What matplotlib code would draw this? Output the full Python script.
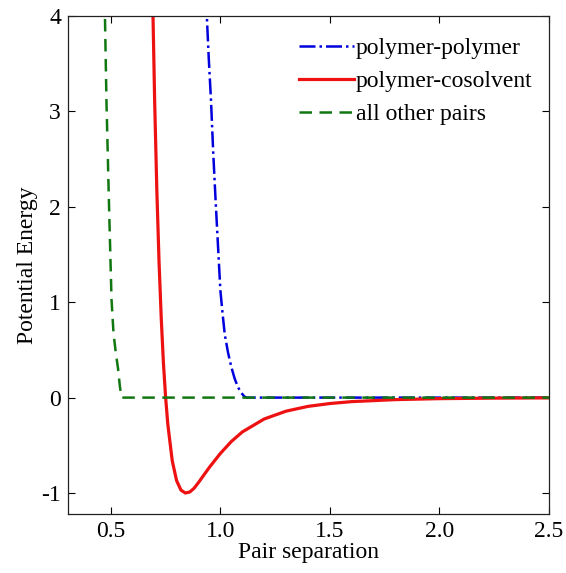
import matplotlib.pyplot as plt
import matplotlib as mpl

mpl.rcParams['font.family'] = 'Liberation Serif'
mpl.rcParams['axes.unicode_minus'] = False

# polymer-polymer (blue, dash-dot)
pp_x = [0.935, 0.938, 0.947, 0.957, 0.967, 0.978, 0.990, 1.000, 1.010, 1.020, 1.035, 1.050, 1.065, 1.080, 1.095, 1.110, 1.122, 2.5]
pp_y = [4.2, 4.0, 3.55, 3.12, 2.58, 2.07, 1.55, 1.12, 0.88, 0.66, 0.47, 0.32, 0.20, 0.11, 0.05, 0.01, 0.0, 0.0]

# polymer-cosolvent (red, solid)
pc_x = [0.69, 0.70, 0.71, 0.72, 0.73, 0.74, 0.75, 0.76, 0.78, 0.80, 0.82, 0.84, 0.86,
        0.88, 0.90, 0.95, 1.00, 1.05, 1.10, 1.20, 1.30, 1.40, 1.50, 1.60, 1.80, 2.00, 2.25, 2.50]
pc_y = [4.28, 3.10, 2.16, 1.42, 0.83, 0.36, 0.0, -0.28, -0.66, -0.87, -0.97, -1.0, -0.99,
        -0.95, -0.89, -0.73, -0.585, -0.46, -0.36, -0.224, -0.142, -0.092, -0.062, -0.042, -0.021, -0.011, -0.0055, -0.003]

# all other pairs (green, dashed)
op_x = [0.468, 0.473, 0.480, 0.491, 0.503, 0.512, 0.522, 0.533, 0.541, 0.549, 2.5]
op_y = [4.3, 4.0, 3.1, 2.07, 1.03, 0.68, 0.48, 0.30, 0.12, 0.0, 0.0]

fig = plt.figure(figsize=(5.66, 5.73), dpi=100)
ax = fig.add_axes([0.120, 0.103, 0.850, 0.869])

ax.plot(pp_x, pp_y, color='#0000dd', linestyle='-.', linewidth=1.8, label='polymer-polymer')
ax.plot(pc_x, pc_y, color='#ee1111', linestyle='-', linewidth=2.3, label='polymer-cosolvent')
ax.plot(op_x, op_y, color='#117711', linestyle=(0, (5, 3)), linewidth=1.8, label='all other pairs')

ax.set_xlim(0.304, 2.5)
ax.set_ylim(-1.22, 4)
ax.set_xticks([0.5, 1.0, 1.5, 2.0, 2.5])
ax.set_xticklabels(['0.5', '1.0', '1.5', '2.0', '2.5'])
ax.set_yticks([-1, 0, 1, 2, 3, 4])
ax.tick_params(direction='in', top=True, right=True, labelsize=17, length=5, width=0.8, pad=5)
for s in ax.spines.values():
    s.set_linewidth(0.9)
    s.set_color('#222222')

ax.set_xlabel('Pair separation', fontsize=17, labelpad=0)
ax.set_ylabel('Potential Energy', fontsize=17, labelpad=2)

ax.legend(loc='upper right', bbox_to_anchor=(1.01, 1.0), frameon=False, fontsize=17,
          handlelength=2.3, handletextpad=0.1, labelspacing=0.5)

fig.savefig('out.png', dpi=100)
